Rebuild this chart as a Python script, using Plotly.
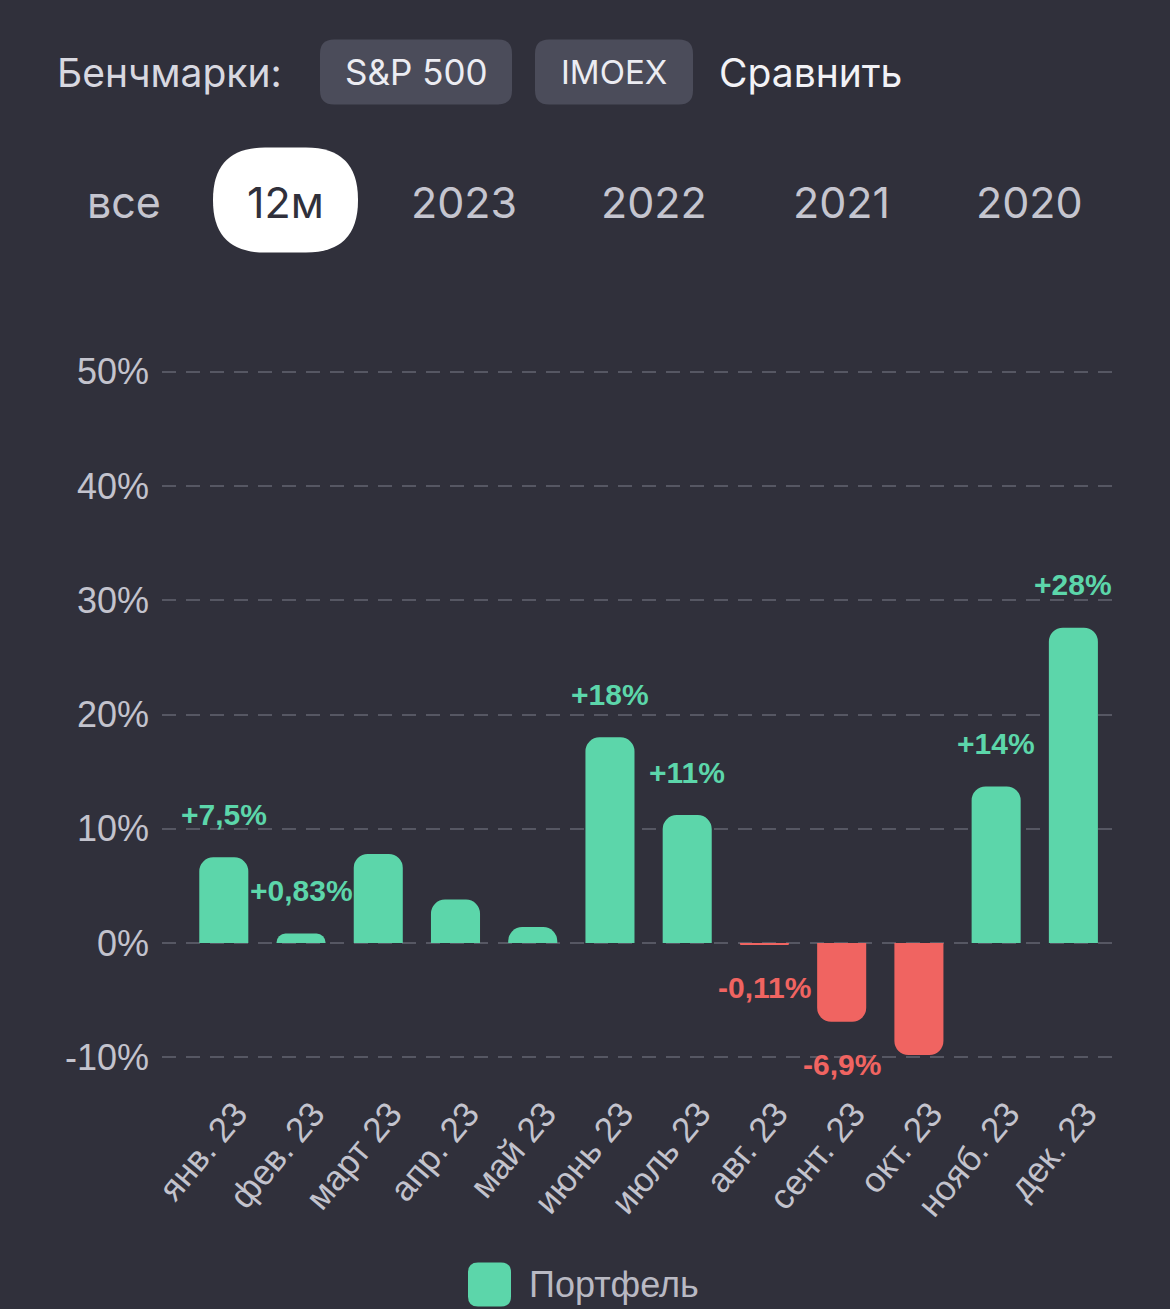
import plotly.graph_objects as go

# ---- data ----
months = ["янв. 23", "фев. 23", "март 23", "апр. 23", "май 23", "июнь 23",
          "июль 23", "авг. 23", "сент. 23", "окт. 23", "нояб. 23", "дек. 23"]
returns = [7.5, 0.83, 7.8, 3.8, 1.4, 18.0, 11.2, -0.11, -6.9, -9.8, 13.7, 27.6]
labels = ["+7,5%", "+0,83%", "", "", "", "+18%", "+11%", "-0,11%", "-6,9%", "", "+14%", "+28%"]
y_ticks = [-10, 0, 10, 20, 30, 40, 50]
y_tick_text = ["-10%", "0%", "10%", "20%", "30%", "40%", "50%"]
benchmarks = ["S&P 500", "IMOEX"]
periods = ["все", "12м", "2023", "2022", "2021", "2020"]
series_name = "Портфель"

# ---- style ----
BG = "#30303b"
GREEN = "#5cd6aa"
RED = "#f06461"
GRID = "#565763"
TICK = "#c3c3cd"
BTN = "#4b4c5a"
W, H = 1170, 1309
PAD = 0.5 * 114.3 / 10
L, R, T, B = 162, 1112, 372 - PAD, 1057 + PAD  # plot area in pixels


def px(x):
    return (x - L) / (R - L)


def py(y):
    return (B - y) / (B - T)


def rrect(x0, y0, x1, y1, r):
    # rounded rectangle in paper coords from pixel box
    p = [
        f"M {px(x0 + r)},{py(y0)}",
        f"L {px(x1 - r)},{py(y0)}",
        f"Q {px(x1)},{py(y0)} {px(x1)},{py(y0 + r)}",
        f"L {px(x1)},{py(y1 - r)}",
        f"Q {px(x1)},{py(y1)} {px(x1 - r)},{py(y1)}",
        f"L {px(x0 + r)},{py(y1)}",
        f"Q {px(x0)},{py(y1)} {px(x0)},{py(y1 - r)}",
        f"L {px(x0)},{py(y0 + r)}",
        f"Q {px(x0)},{py(y0)} {px(x0 + r)},{py(y0)}",
        "Z",
    ]
    return " ".join(p)


colors = [GREEN if v >= 0 else RED for v in returns]

fig = go.Figure()
fig.add_trace(go.Bar(
    x=months, y=returns, name=series_name,
    marker=dict(color=colors, cornerradius=14, line=dict(width=0)),
    hoverinfo="skip",
))

annotations = []
for m, v, t in zip(months, returns, labels):
    if not t:
        continue
    annotations.append(dict(
        x=m, y=v, xref="x", yref="y", text=f"<b>{t}</b>", showarrow=False,
        yshift=43 if v >= 0 else -43, xanchor="center", yanchor="middle",
        font=dict(family="Liberation Sans", size=30, color=GREEN if v >= 0 else RED),
    ))

shapes = []
UI_FONT = "Inter"
# header row
annotations.append(dict(x=px(55), y=py(73), xref="paper", yref="paper", text="Бенчмарки:",
                        showarrow=False, xanchor="left", yanchor="middle",
                        font=dict(family=UI_FONT, size=39, color="#d8d8e0")))
btn_boxes = [(320, 40, 512, 105), (535, 40, 693, 105)]
btn_sizes = [35, 33]
for (x0, y0, x1, y1), name, fs in zip(btn_boxes, benchmarks, btn_sizes):
    shapes.append(dict(type="path", path=rrect(x0, y0, x1, y1, 14), xref="paper", yref="paper",
                       fillcolor=BTN, line=dict(width=0), layer="below"))
    annotations.append(dict(x=px((x0 + x1) / 2), y=py((y0 + y1) / 2), xref="paper", yref="paper",
                            text=name, showarrow=False, xanchor="center", yanchor="middle",
                            font=dict(family=UI_FONT, size=fs, color="#ececf2")))
annotations.append(dict(x=px(717), y=py(73), xref="paper", yref="paper", text="Сравнить",
                        showarrow=False, xanchor="left", yanchor="middle",
                        font=dict(family=UI_FONT, size=39, color="#f2f2f6")))

# period row
period_x = [124, 285, 464, 654, 841, 1029]
shapes.append(dict(type="path", path=rrect(213, 148, 358, 253, 52), xref="paper", yref="paper",
                   fillcolor="#ffffff", line=dict(width=0), layer="below"))
for xc, p in zip(period_x, periods):
    annotations.append(dict(x=px(xc), y=py(202), xref="paper", yref="paper", text=p,
                            showarrow=False, xanchor="center", yanchor="middle",
                            font=dict(family=UI_FONT, size=43,
                                      color=BG if p == "12м" else "#c5c5cf")))

# legend
shapes.append(dict(type="path", path=rrect(468, 1262, 511, 1306, 10), xref="paper", yref="paper",
                   fillcolor=GREEN, line=dict(width=0)))
annotations.append(dict(x=px(527), y=py(1284), xref="paper", yref="paper", text=series_name,
                        showarrow=False, xanchor="left", yanchor="middle",
                        font=dict(family="Liberation Sans", size=36, color="#b9b9c3")))

fig.update_layout(
    width=W, height=H,
    margin=dict(l=L, r=W - R, t=T, b=H - B, pad=0),
    paper_bgcolor=BG, plot_bgcolor=BG,
    showlegend=False, bargap=0.365,
    annotations=annotations, shapes=shapes,
    font=dict(family="Liberation Sans", color=TICK),
    xaxis=dict(
        range=[-0.8, 11.5], showgrid=False, zeroline=False, showline=False,
        tickangle=-50, tickfont=dict(size=35, color=TICK), ticks="",
        fixedrange=True, ticklabelstandoff=22, ticklabelshift=12,
    ),
    yaxis=dict(
        range=[-10.5, 50.5], tickvals=y_ticks, ticktext=y_tick_text,
        showgrid=True, gridcolor=GRID, gridwidth=2, griddash="14px,10px",
        zeroline=False, showline=False, ticks="",
        tickfont=dict(size=36, color=TICK), ticklabelstandoff=12, fixedrange=True,
    ),
)

fig.write_html("out.html", config={"displayModeBar": False})
